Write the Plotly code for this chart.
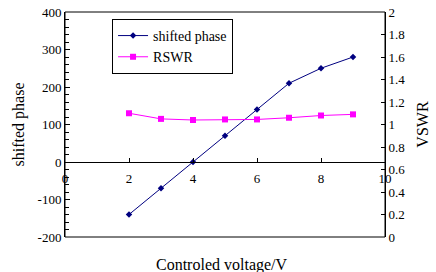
import plotly.graph_objects as go

voltage = [2, 3, 4, 5, 6, 7, 8, 9]
shifted_phase = [-140, -70, 0, 70, 140, 210, 250, 280]
rswr = [1.10, 1.05, 1.04, 1.045, 1.045, 1.06, 1.08, 1.09]
phase_ticks = [-200, -100, 0, 100, 200, 300, 400]
phase_tick_labels = ["-200", "-100", "0", "100", "200", "300", "400"]

FONT = "Liberation Serif"
TICKFONT = dict(family=FONT, size=13, color="black")

fig = go.Figure()
fig.add_trace(go.Scatter(
    x=voltage, y=shifted_phase, name="shifted phase", mode="lines+markers",
    line=dict(color="#000080", width=1),
    marker=dict(symbol="diamond", size=5, color="#000080"),
    yaxis="y"))
fig.add_trace(go.Scatter(
    x=voltage, y=rswr, name="RSWR", mode="lines+markers",
    line=dict(color="#FF00FF", width=1),
    marker=dict(symbol="square", size=6, color="#FF00FF"),
    yaxis="y2"))

fig.update_layout(
    width=436, height=272,
    margin=dict(l=65, r=51, t=12, b=35, autoexpand=False),
    plot_bgcolor="white", paper_bgcolor="white",
    font=dict(family=FONT, size=13, color="black"),
    showlegend=True,
    legend=dict(x=0.147, y=0.969, xanchor="left", yanchor="top",
                bordercolor="black", borderwidth=1, bgcolor="white",
                font=dict(family=FONT, size=14), tracegroupgap=0,
                itemwidth=30),
    xaxis=dict(range=[0, 10], dtick=2, tick0=0, anchor="free", position=1/3,
               showline=True, linecolor="black", linewidth=1, tickfont=TICKFONT,
               ticks="inside", ticklen=4, tickcolor="black", automargin=False,
               showgrid=False, zeroline=False, ticklabelstandoff=4),
    yaxis=dict(range=[-200, 400], tickvals=phase_ticks, ticktext=phase_tick_labels,
               showline=True, linecolor="black",
               ticks="inside", ticklen=5, tickcolor="black", automargin=False,
               tickfont=TICKFONT,
               minor=dict(dtick=20, tick0=0, ticks="inside", ticklen=4, tickcolor="black"),
               showgrid=False, zeroline=False,
               title=dict(text="shifted phase", font=dict(family=FONT, size=16), standoff=8)),
    yaxis2=dict(range=[0, 2], dtick=0.2, overlaying="y", side="right",
                showline=True, linecolor="black", ticks="inside", ticklen=4,
                tickcolor="black", showgrid=False, zeroline=False, automargin=False,
                tickfont=TICKFONT,
                title=dict(text="VSWR", font=dict(family=FONT, size=16), standoff=12)),
    shapes=[dict(type="rect", xref="paper", yref="paper", x0=0, x1=1, y0=0, y1=1,
                 line=dict(color="black", width=1), layer="above")],
    annotations=[dict(text="Controled voltage/V", xref="paper", yref="paper",
                      x=0.49, y=-0.075, xanchor="center", yanchor="top", showarrow=False,
                      font=dict(family=FONT, size=16))],
)

fig.write_html("out.html", config={"displayModeBar": False},
               post_script="document.body.style.margin='0';")
